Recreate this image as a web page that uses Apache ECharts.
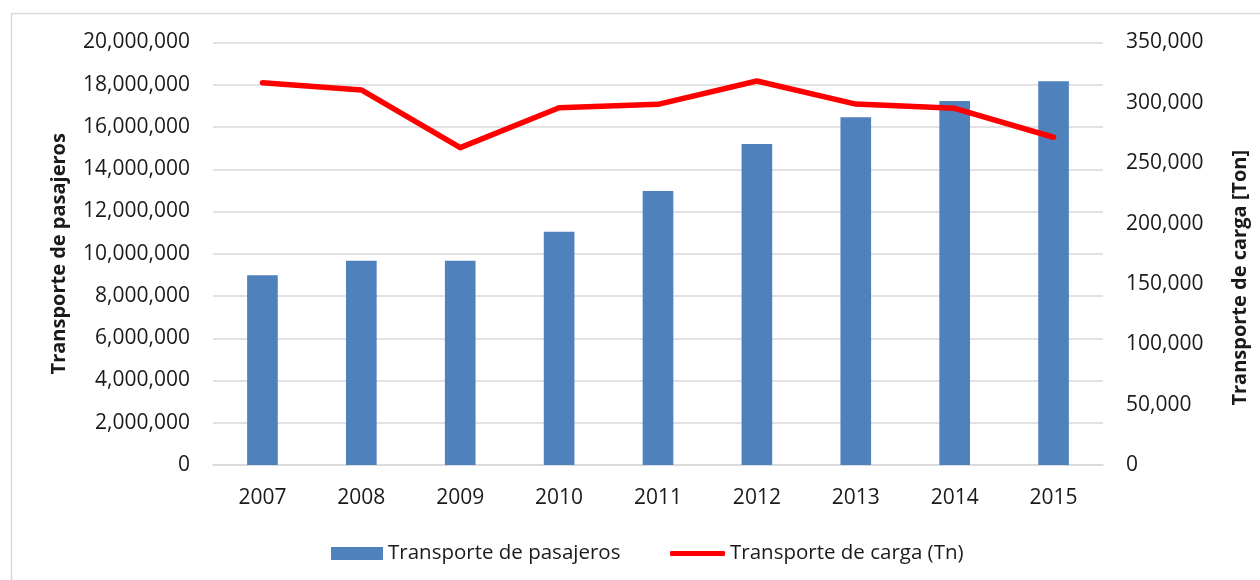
<!DOCTYPE html>
<html>
<head>
<meta charset="utf-8">
<script src="https://cdn.jsdelivr.net/npm/echarts@6/dist/echarts.min.js"></script>
<style>
html,body{margin:0;padding:0;background:#fff;}
#chart{width:1260px;height:580px;}
</style>
</head>
<body>
<div id="chart"></div>
<script>
const years = ['2007','2008','2009','2010','2011','2012','2013','2014','2015'];
const pasajeros = [8980000, 9670000, 9670000, 11040000, 12970000, 15190000, 16460000, 17230000, 18160000];
const carga = [316700, 310700, 262900, 296000, 298800, 318100, 299000, 295500, 271500];
const seriesNames = ['Transporte de pasajeros', 'Transporte de carga (Tn)'];
const leftTitle = 'Transporte de pasajeros';
const rightTitle = 'Transporte de carga [Ton]';

const FONT = '"Open Sans", "Noto Sans", sans-serif';
const fmt = v => Number(v).toLocaleString('en-US');
const legendText = { fontFamily: FONT, fontSize: 20.5, color: '#1a1a1a' };

const chart = echarts.init(document.getElementById('chart'));
chart.setOption({
  animation: false,
  backgroundColor: '#fff',
  textStyle: { fontFamily: FONT, color: '#1a1a1a' },
  graphic: [{
    type: 'rect', silent: true, z: -10,
    shape: { x: 11.5, y: 13.5, width: 1300, height: 700 },
    style: { fill: 'none', stroke: '#D9D9D9', lineWidth: 1.5 }
  }],
  grid: { left: 213, right: 157, top: 42.5, bottom: 115 },
  legend: [{
    left: 326, top: 538,
    itemWidth: 52, itemHeight: 13, itemGap: 6,
    textStyle: legendText,
    data: [{ name: seriesNames[0], icon: 'rect' }]
  }, {
    left: 665, top: 538,
    itemWidth: 55, itemHeight: 5, itemGap: 6,
    textStyle: legendText,
    data: [{ name: seriesNames[1], icon: 'roundRect', itemStyle: { color: '#FF0000' } }]
  }],
  xAxis: {
    type: 'category', data: years,
    axisTick: { show: false },
    axisLine: { lineStyle: { color: '#D9D9D9', width: 1.5 } },
    axisLabel: { fontFamily: FONT, fontSize: 21, color: '#1a1a1a', margin: 23 }
  },
  yAxis: [{
    type: 'value', min: 0, max: 20000000, interval: 2000000,
    name: leftTitle, nameLocation: 'middle', nameGap: 144,
    nameTextStyle: { fontFamily: FONT, fontSize: 20, fontWeight: 'bold', color: '#1a1a1a' },
    axisLine: { show: false }, axisTick: { show: false },
    axisLabel: { fontFamily: FONT, fontSize: 21, color: '#1a1a1a', margin: 23, formatter: fmt },
    splitLine: { lineStyle: { color: '#D9D9D9', width: 1.5 } }
  }, {
    type: 'value', min: 0, max: 350000, interval: 50000, position: 'right',
    name: rightTitle, nameLocation: 'middle', nameGap: 127,
    nameTextStyle: { fontFamily: FONT, fontSize: 20, fontWeight: 'bold', color: '#1a1a1a', padding: [0, 48, 0, 0] },
    axisLine: { show: false }, axisTick: { show: false },
    axisLabel: { fontFamily: FONT, fontSize: 21, color: '#1a1a1a', margin: 23, formatter: fmt },
    splitLine: { show: false }
  }],
  series: [{
    name: seriesNames[0], type: 'bar', data: pasajeros, yAxisIndex: 0,
    barWidth: '31%',
    itemStyle: { color: '#4F81BD' }
  }, {
    name: seriesNames[1], type: 'line', data: carga, yAxisIndex: 1,
    symbol: 'none', z: 5,
    lineStyle: { color: '#FF0000', width: 5.5, cap: 'round', join: 'round' },
    itemStyle: { color: '#FF0000' }
  }]
});
</script>
</body>
</html>
